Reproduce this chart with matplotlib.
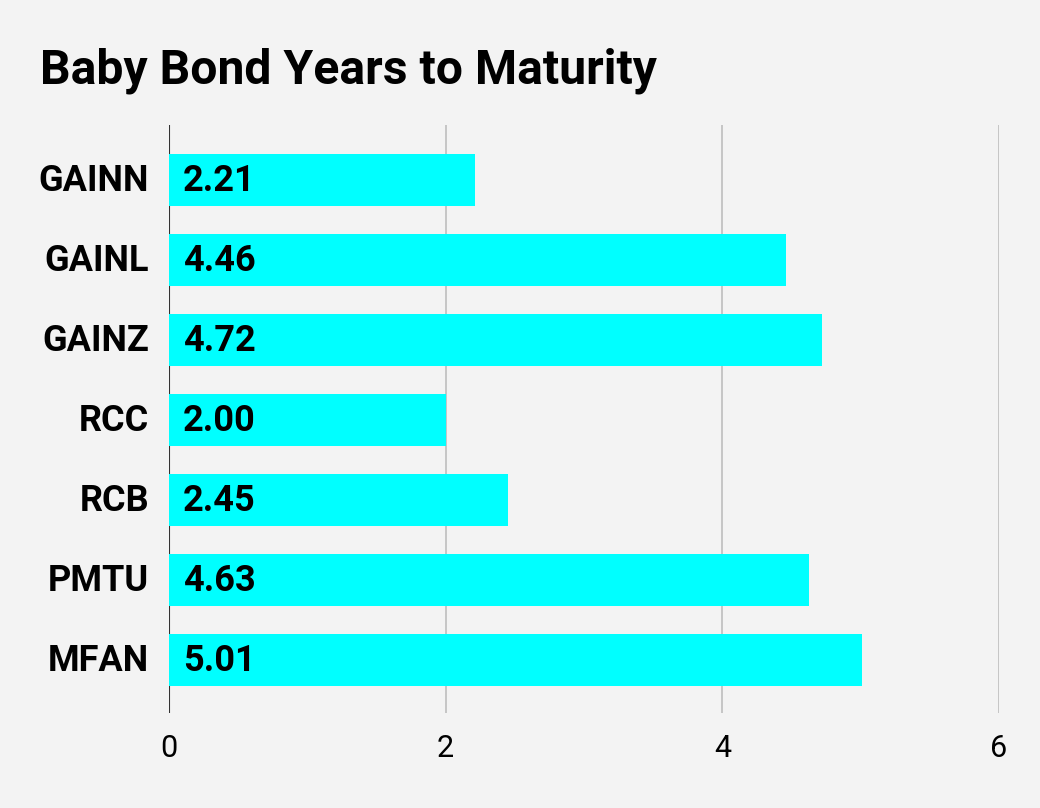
import matplotlib
matplotlib.use("Agg")
import matplotlib.pyplot as plt
from matplotlib.transforms import ScaledTranslation, blended_transform_factory

categories = ["GAINN", "GAINL", "GAINZ", "RCC", "RCB", "PMTU", "MFAN"]
values = [2.21, 4.46, 4.72, 2.00, 2.45, 4.63, 5.01]
xticks = [0, 2, 4, 6]
title = "Baby Bond Years to Maturity"

bg = "#f3f3f3"
fig = plt.figure(figsize=(10.4, 8.08), dpi=100, facecolor=bg)
ax = fig.add_axes([169/1040, 1-713/808, 830/1040, 588/808])
ax.set_facecolor(bg)

up = ScaledTranslation(0, 3/100, fig.dpi_scale_trans)
left = ScaledTranslation(-20/100, 3/100, fig.dpi_scale_trans)

y = list(range(len(categories)))
ax.barh(y, values, height=0.65, color="#00ffff", zorder=3)
for yi, v in zip(y, values):
    ax.text(0.1, yi, f"{v:.2f}", va="center_baseline", ha="left", fontsize=26,
            fontweight="bold", family="Roboto", color="#000000", zorder=4,
            transform=ax.transData + up)

ax.set_xlim(0, 6)
ax.set_ylim(6.66, -0.69)
ax.set_xticks(xticks)
ax.set_xticklabels([str(t) for t in xticks], family="Roboto", fontsize=22)
ax.set_yticks(y)
ax.set_yticklabels([])
yt = blended_transform_factory(ax.transAxes, ax.transData) + left
for yi, c in zip(y, categories):
    ax.text(0, yi, c, va="center_baseline", ha="right", fontsize=26,
            fontweight="bold", family="Roboto", color="#000000",
            transform=yt, clip_on=False)
ax.tick_params(axis="both", length=0)
ax.tick_params(axis="x", pad=15)
for s in ax.spines.values():
    s.set_visible(False)
ax.xaxis.grid(True, color="#bdbdbd", linewidth=1.2, zorder=1)
ax.axvline(0, color="#333333", linewidth=1.5, zorder=2)

fig.text(40/1040, 1-71/808, title, family="Roboto", fontweight="bold",
         fontsize=34.7, va="center", ha="left")

fig.savefig("out.png", dpi=100, facecolor=bg)
